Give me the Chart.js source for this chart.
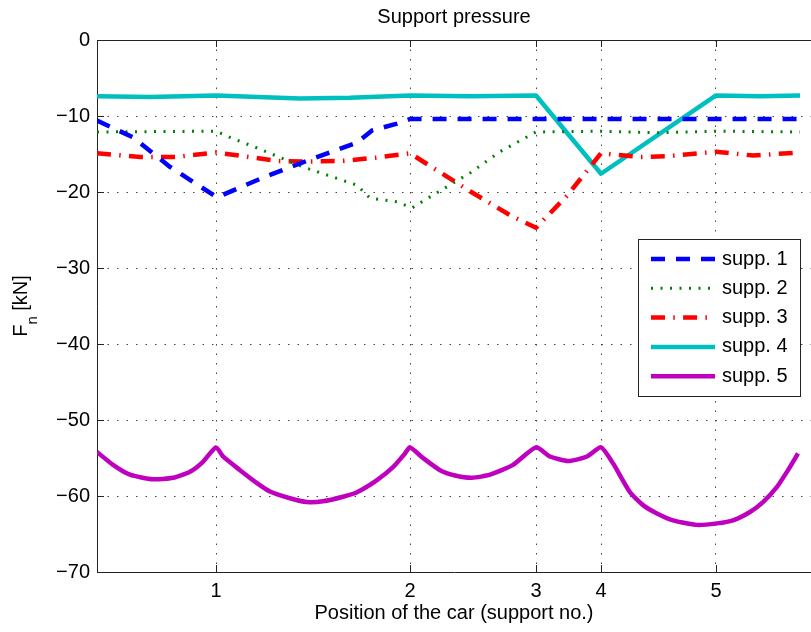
<!DOCTYPE html>
<html>
<head>
<meta charset="utf-8">
<script src="https://cdn.jsdelivr.net/npm/chart.js@4.4.1/dist/chart.umd.min.js"></script>
<style>
  html, body { margin: 0; padding: 0; background: #fff; overflow: hidden; }
</style>
</head>
<body>
<canvas id="grafico" width="811" height="632"></canvas>
<script>
// support positions along the track (m) and their tick labels
const supportPos = [5.95, 15.65, 21.95, 25.2, 30.95];
const supportLabels = ['1', '2', '3', '4', '5'];

// car position (m) / support force (kN)
const supp1X = [0, 1.8, 3.65, 6.0, 8.3, 10.5, 13.0, 13.75, 15.0, 15.65, 35.15];
const supp1Y = [-10.6, -12.8, -16.7, -20.7, -18.1, -15.9, -13.5, -11.9, -11.0, -10.4, -10.4];

const supp2X = [0, 5.95, 6.65, 8.0, 10.3, 13.0, 13.65, 15.0, 15.75, 16.55, 18.65, 20.15, 21.95, 25.2, 28.15, 30.95, 35.15];
const supp2Y = [-12.1, -12.0, -12.8, -14.2, -16.7, -19.1, -20.8, -21.3, -22.1, -20.8, -17.5, -14.7, -12.1, -12.0, -12.2, -12.0, -12.1];

const supp3X = [0, 2.15, 3.9, 5.95, 9.0, 10.5, 12.3, 13.9, 15.65, 18.65, 20.75, 21.95, 23.5, 25.2, 27.15, 28.5, 30.95, 32.8, 35.15];
const supp3Y = [-14.9, -15.4, -15.4, -14.8, -15.9, -16.0, -15.9, -15.5, -14.9, -19.9, -23.2, -24.7, -20.5, -14.9, -15.4, -15.3, -14.7, -15.2, -14.8];

const supp4X = [0, 2.65, 5.95, 10.15, 12.65, 15.65, 18.65, 21.95, 25.2, 30.95, 33.15, 35.15];
const supp4Y = [-7.4, -7.5, -7.3, -7.7, -7.6, -7.3, -7.4, -7.3, -17.6, -7.3, -7.4, -7.3];

const supp5X = [0, 0.8, 1.65, 2.8, 3.8, 4.65, 5.3, 5.95, 6.3, 7.15, 8.0, 8.65, 9.65, 10.5, 11.3, 12.3, 13.0, 14.0, 14.8, 15.4,
                15.65, 16.3, 17.15, 17.9, 18.75, 19.65, 20.8, 21.95, 22.65, 23.55, 24.5, 25.2, 25.8, 26.65, 27.3, 28.0, 28.8,
                30.0, 31.0, 31.8, 32.65, 33.3, 34.0, 34.55, 35.05];
const supp5Y = [-54.2, -55.9, -57.2, -57.8, -57.6, -56.8, -55.5, -53.6, -54.8, -56.6, -58.3, -59.4, -60.3, -60.8, -60.7, -60.1, -59.5, -57.9, -56.2, -54.4,
                -53.6, -55.0, -56.6, -57.3, -57.6, -57.2, -55.9, -53.6, -54.8, -55.4, -54.8, -53.6, -55.7, -59.5, -61.2, -62.3, -63.2,
                -63.8, -63.6, -63.2, -62.1, -60.8, -58.8, -56.6, -54.4];

const FONT = '"Liberation Sans", Arial, Helvetica, sans-serif';
const pts = (xs, ys) => xs.map((x, i) => ({ x: x, y: ys[i] }));
const minus = v => v < 0 ? '\u2212' + Math.abs(v) : String(v);

// frame, inward ticks, title, y label and the boxed legend
const marcoPlugin = {
    id: 'marco',
    afterDraw(chart) {
        const { ctx, chartArea: a, scales } = chart;
        ctx.save();
        ctx.strokeStyle = '#222';
        ctx.lineWidth = 1;
        ctx.beginPath();
        ctx.moveTo(a.left, a.top + 0.5); ctx.lineTo(a.right, a.top + 0.5);
        scales.x.ticks.forEach(t => {
            const x = Math.round(scales.x.getPixelForValue(t.value)) + 0.5;
            ctx.moveTo(x, a.bottom); ctx.lineTo(x, a.bottom - 7);
            ctx.moveTo(x, a.top); ctx.lineTo(x, a.top + 7);
        });
        scales.y.ticks.forEach(t => {
            const y = Math.round(scales.y.getPixelForValue(t.value)) + 0.5;
            ctx.moveTo(a.left, y); ctx.lineTo(a.left + 7, y);
        });
        ctx.stroke();

        ctx.fillStyle = '#000';
        ctx.font = '20px ' + FONT;
        ctx.textAlign = 'center';
        ctx.textBaseline = 'alphabetic';
        ctx.fillText('Support pressure', (a.left + a.right) / 2, 23);

        // F_n [kN], rotated
        ctx.save();
        ctx.translate(27, (a.top + a.bottom) / 2);
        ctx.rotate(-Math.PI / 2);
        ctx.textAlign = 'left';
        ctx.font = '20px ' + FONT;
        const wF = ctx.measureText('F').width;
        const wU = ctx.measureText(' [kN]').width;
        ctx.font = '15px ' + FONT;
        const wN = ctx.measureText('n').width;
        let x0 = -(wF + wN + wU) / 2;
        ctx.font = '20px ' + FONT;
        ctx.fillText('F', x0, 0);
        ctx.font = '15px ' + FONT;
        ctx.fillText('n', x0 + wF, 10);
        ctx.font = '20px ' + FONT;
        ctx.fillText(' [kN]', x0 + wF + wN, 0);
        ctx.restore();

        // legend
        const bx = 638, by = 239, bw = 162, bh = 157;
        ctx.fillStyle = '#fff';
        ctx.fillRect(bx, by, bw, bh);
        ctx.strokeStyle = '#222';
        ctx.strokeRect(bx + 0.5, by + 0.5, bw, bh);
        chart.data.datasets.forEach((ds, i) => {
            const y = 259 + i * 29.3;
            ctx.save();
            ctx.strokeStyle = ds.borderColor;
            ctx.lineWidth = ds.borderWidth;
            ctx.lineCap = 'butt';
            ctx.setLineDash(ds.borderDash || []);
            ctx.beginPath();
            ctx.moveTo(651, y); ctx.lineTo(715, y);
            ctx.stroke();
            ctx.restore();
            ctx.fillStyle = '#000';
            ctx.font = '20px ' + FONT;
            ctx.textAlign = 'left';
            ctx.textBaseline = 'middle';
            ctx.fillText(ds.label, 722, y);
        });
        ctx.restore();
    }
};

new Chart(document.getElementById('grafico'), {
    type: 'line',
    data: {
        datasets: [
            { label: 'supp. 1', data: pts(supp1X, supp1Y), borderColor: '#0000ff', borderWidth: 4.5, borderDash: [14, 11] },
            { label: 'supp. 2', data: pts(supp2X, supp2Y), borderColor: '#008000', borderWidth: 3, borderDash: [2, 7.5] },
            { label: 'supp. 3', data: pts(supp3X, supp3Y), borderColor: '#ff0000', borderWidth: 4.5, borderDash: [14, 8.3, 1.5, 8.3] },
            { label: 'supp. 4', data: pts(supp4X, supp4Y), borderColor: '#00bfbf', borderWidth: 4.5 },
            { label: 'supp. 5', data: pts(supp5X, supp5Y), borderColor: '#bf00bf', borderWidth: 4.5, tension: 0.2 }
        ]
    },
    options: {
        responsive: false,
        animation: false,
        layout: { padding: { top: 40, left: 0, right: 0, bottom: 0 } },
        elements: { point: { radius: 0 }, line: { borderCapStyle: 'butt', borderJoinStyle: 'round', fill: false, tension: 0 } },
        plugins: { legend: { display: false }, tooltip: { enabled: false }, title: { display: false } },
        scales: {
            x: {
                type: 'linear', min: 0, max: 35.7,
                afterBuildTicks: s => { s.ticks = supportPos.map(v => ({ value: v })); },
                afterFit: s => { s.height = 60; },
                ticks: { callback: (v, i) => supportLabels[i], padding: 7, color: '#000', font: { family: FONT, size: 20 }, maxRotation: 0, autoSkip: false },
                grid: { color: '#444', lineWidth: 1, drawTicks: false },
                border: { color: '#222', width: 1, dash: [1.5, 8] },
                title: { display: true, text: 'Position of the car (support no.)', color: '#000', font: { family: FONT, size: 20 }, padding: { top: 0, bottom: 7 } }
            },
            y: {
                min: -70, max: 0,
                afterFit: s => { s.width = 97; },
                ticks: { stepSize: 10, padding: 7, color: '#000', font: { family: FONT, size: 20 }, callback: v => minus(v) },
                grid: { color: '#444', lineWidth: 1, drawTicks: false },
                border: { color: '#222', width: 1, dash: [1.5, 8] }
            }
        }
    },
    plugins: [marcoPlugin]
});
</script>
</body>
</html>
